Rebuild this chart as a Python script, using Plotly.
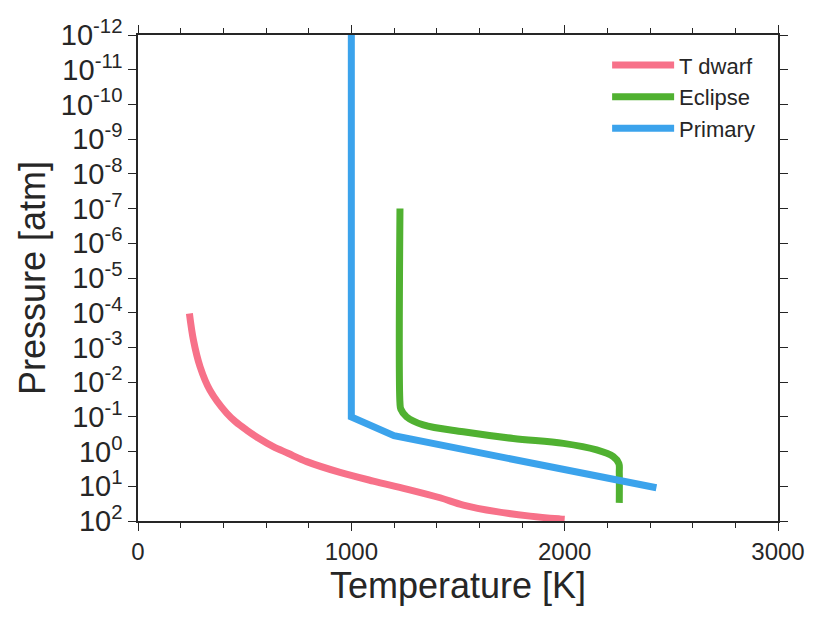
import plotly.graph_objects as go

# ---- data ----
tdwarf_T = [241, 260, 291, 337, 416, 459, 509, 562, 634, 703, 791, 947, 1103, 1259, 1416, 1525, 1681, 1838, 1978, 2000]
tdwarf_P = [1.05e-4, 6.2e-4, 3.6e-3, 0.017, 0.079, 0.141, 0.24, 0.40, 0.72, 1.12, 1.95,
            3.98, 7.08, 12.0, 21.4, 34.7, 53.7, 72.4, 87, 89]

eclipse_T = [1228, 1228, 1232, 1259, 1337, 1525, 1759, 1994, 2150, 2228, 2254, 2256, 2256]
eclipse_P = [1e-7, 0.04, 0.06, 0.10, 0.17, 0.27, 0.42, 0.58, 0.90, 1.4, 2.2, 4.0, 30]

primary_T = [1000, 1000, 1200, 2430]
primary_P = [1e-12, 0.1, 0.35, 11]

series_names = ["T dwarf", "Eclipse", "Primary"]
series_colors = ["#f77189", "#50b131", "#3ba3ec"]
series_shapes = ["spline", "spline", "linear"]

y_exponents = list(range(-12, 3))
y_tickvals = [10.0 ** e for e in y_exponents]
y_ticktext = ["10<sup>%d</sup>" % e for e in y_exponents]
x_tickvals = [0, 1000, 2000, 3000]

FONT = "Liberation Sans, Arial, sans-serif"
INK = "#262626"

fig = go.Figure()
for name, T, P, c, sh in zip(series_names,
                             [tdwarf_T, eclipse_T, primary_T],
                             [tdwarf_P, eclipse_P, primary_P],
                             series_colors, series_shapes):
    line = dict(color=c, width=7, shape=sh)
    if sh == "spline":
        line["smoothing"] = 1.0
    fig.add_trace(go.Scatter(x=T, y=P, mode="lines", name=name, line=line))

# page body has an 8px default margin; margins below compensate for it
fig.update_layout(
    width=830, height=623,
    margin=dict(l=130, r=60, t=27, b=110, autoexpand=False),
    plot_bgcolor="white", paper_bgcolor="white",
    font=dict(family=FONT, color=INK),
    showlegend=True,
    legend=dict(x=0.733, y=0.981, xanchor="left", yanchor="top",
                bgcolor="rgba(0,0,0,0)", font=dict(size=22, color=INK),
                tracegroupgap=0, itemwidth=62),
)
fig.update_xaxes(
    range=[0, 3000], tickvals=x_tickvals, ticktext=[str(v) for v in x_tickvals],
    automargin=False,
    showgrid=False, zeroline=False,
    showline=True, linecolor=INK, linewidth=1.5, mirror="ticks",
    ticks="outside", ticklen=8, tickwidth=1.2, tickcolor=INK,
    minor=dict(dtick=200, ticks="outside", ticklen=5, tickwidth=1, tickcolor=INK, showgrid=False),
    tickfont=dict(size=24, color=INK),
    title=dict(text="Temperature [K]", font=dict(size=36, color=INK), standoff=2),
)
fig.update_yaxes(
    type="log", range=[2, -12],
    tickvals=y_tickvals, ticktext=y_ticktext,
    automargin=False,
    showgrid=False, zeroline=False,
    showline=True, linecolor=INK, linewidth=1.5, mirror="ticks",
    ticks="outside", ticklen=8, tickwidth=1.2, tickcolor=INK,
    tickfont=dict(size=29, color=INK),
    title=dict(text="Pressure [atm]", font=dict(size=36, color=INK), standoff=4),
)

fig.write_html("out.html")
